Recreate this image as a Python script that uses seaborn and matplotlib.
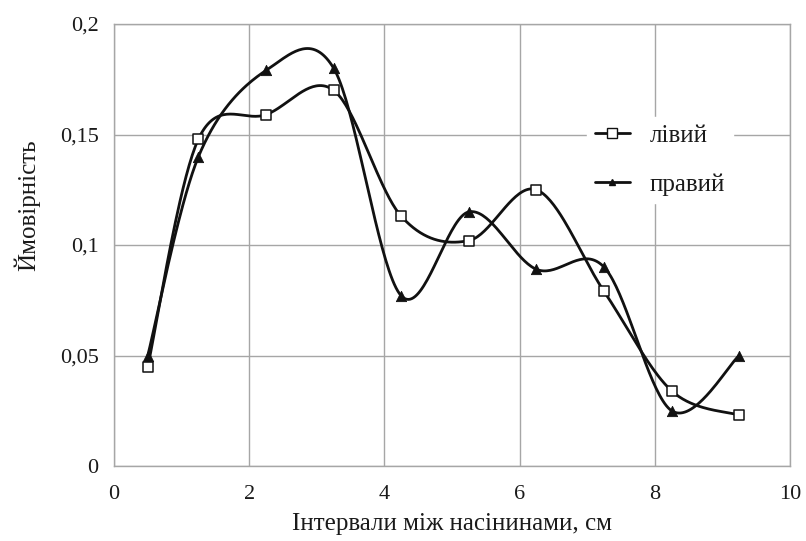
import numpy as np
import pandas as pd
import seaborn as sns
import matplotlib
matplotlib.use("Agg")
import matplotlib.pyplot as plt
from matplotlib.ticker import FuncFormatter
from matplotlib.lines import Line2D

# Seed-spacing intervals (cm) and probabilities for left and right sections
intervals = [0.5, 1.25, 2.25, 3.25, 4.25, 5.25, 6.25, 7.25, 8.25, 9.25]
left_prob = [0.045, 0.148, 0.159, 0.170, 0.113, 0.102, 0.125, 0.079, 0.034, 0.023]
right_prob = [0.050, 0.140, 0.179, 0.180, 0.077, 0.115, 0.089, 0.090, 0.025, 0.050]
series_names = ["лівий", "правий"]

x_ticks = [0, 2, 4, 6, 8, 10]
y_ticks = [0, 0.05, 0.1, 0.15, 0.2]


def smooth_curve(x, y, n=40):
    """Cardinal (Catmull-Rom) Bezier smoothing through every point."""
    p = np.column_stack([x, y]).astype(float)
    ext = np.vstack([p[0], p, p[-1]])
    out = []
    t = np.linspace(0, 1, n)[:, None]
    for i in range(1, len(ext) - 2):
        p0, p1, p2, p3 = ext[i - 1], ext[i], ext[i + 1], ext[i + 2]
        c1 = p1 + (p2 - p0) / 6.0
        c2 = p2 - (p3 - p1) / 6.0
        seg = ((1 - t) ** 3) * p1 + 3 * ((1 - t) ** 2) * t * c1 \
            + 3 * (1 - t) * t ** 2 * c2 + t ** 3 * p2
        out.append(seg if i == 1 else seg[1:])
    out = np.vstack(out)
    return out[:, 0], out[:, 1]


sns.set_theme(style="white")
plt.rcParams["font.family"] = ["Liberation Serif", "DejaVu Serif"]

TEXT = "#1a1a1a"
INK = "#111111"
GRID = "#a6a6a6"

fig = plt.figure(figsize=(8.06, 5.41), dpi=100)
ax = fig.add_axes([0.1414, 0.1386, 0.8387, 0.8170])

curves = []
for name, vals in zip(series_names, [left_prob, right_prob]):
    cx, cy = smooth_curve(intervals, vals)
    curves.append(pd.DataFrame({"x": cx, "y": cy, "series": name}))
curve_df = pd.concat(curves, ignore_index=True)

sns.lineplot(data=curve_df, x="x", y="y", units="series", estimator=None,
             color=INK, linewidth=2.0, sort=False, ax=ax, legend=False,
             zorder=3)

pts = pd.DataFrame({
    "x": intervals * 2,
    "y": left_prob + right_prob,
    "series": [series_names[0]] * len(intervals) + [series_names[1]] * len(intervals),
})
sns.scatterplot(data=pts[pts.series == series_names[0]], x="x", y="y",
                marker="s", s=60, facecolor="white", edgecolor=INK,
                linewidth=1.1, ax=ax, zorder=4)
sns.scatterplot(data=pts[pts.series == series_names[1]], x="x", y="y",
                marker="^", s=55, color=INK, edgecolor=INK,
                linewidth=0.6, ax=ax, zorder=4)

ax.set_xlim(0, 10)
ax.set_ylim(0, 0.2)
ax.set_xticks(x_ticks)
ax.set_yticks(y_ticks)
fmt = FuncFormatter(lambda v, _: f"{v:g}".replace(".", ","))
ax.xaxis.set_major_formatter(fmt)
ax.yaxis.set_major_formatter(fmt)
ax.grid(True, color=GRID, linewidth=1.0)
ax.set_axisbelow(True)
for s in ax.spines.values():
    s.set_color(GRID)
    s.set_linewidth(1.0)
ax.tick_params(axis="both", which="major", length=5, width=1.0, color=GRID,
               labelsize=16, labelcolor=TEXT, pad=6, direction="out")
ax.tick_params(axis="x", pad=9)

ax.set_xlabel("Інтервали між насінинами, см", fontsize=18, color=TEXT, labelpad=6)
ax.set_ylabel("Ймовірність", fontsize=18, color=TEXT)
ax.yaxis.set_label_coords(-0.109, 0.59)

handles = [
    Line2D([], [], color=INK, linewidth=2.0, marker="s", markersize=6.5,
           markerfacecolor="white", markeredgecolor=INK),
    Line2D([], [], color=INK, linewidth=2.0, marker="^", markersize=5,
           markerfacecolor=INK, markeredgecolor=INK),
]
leg = ax.legend(handles, series_names, loc="upper left",
                bbox_to_anchor=(0.700, 0.790), borderaxespad=0, frameon=True,
                fontsize=18, handlelength=1.4, handletextpad=0.8,
                labelspacing=1.05, borderpad=0.3, facecolor="white",
                edgecolor="white", framealpha=1.0, fancybox=False)
for t in leg.get_texts():
    t.set_color(TEXT)

fig.savefig("out.png", dpi=100, facecolor="white")
